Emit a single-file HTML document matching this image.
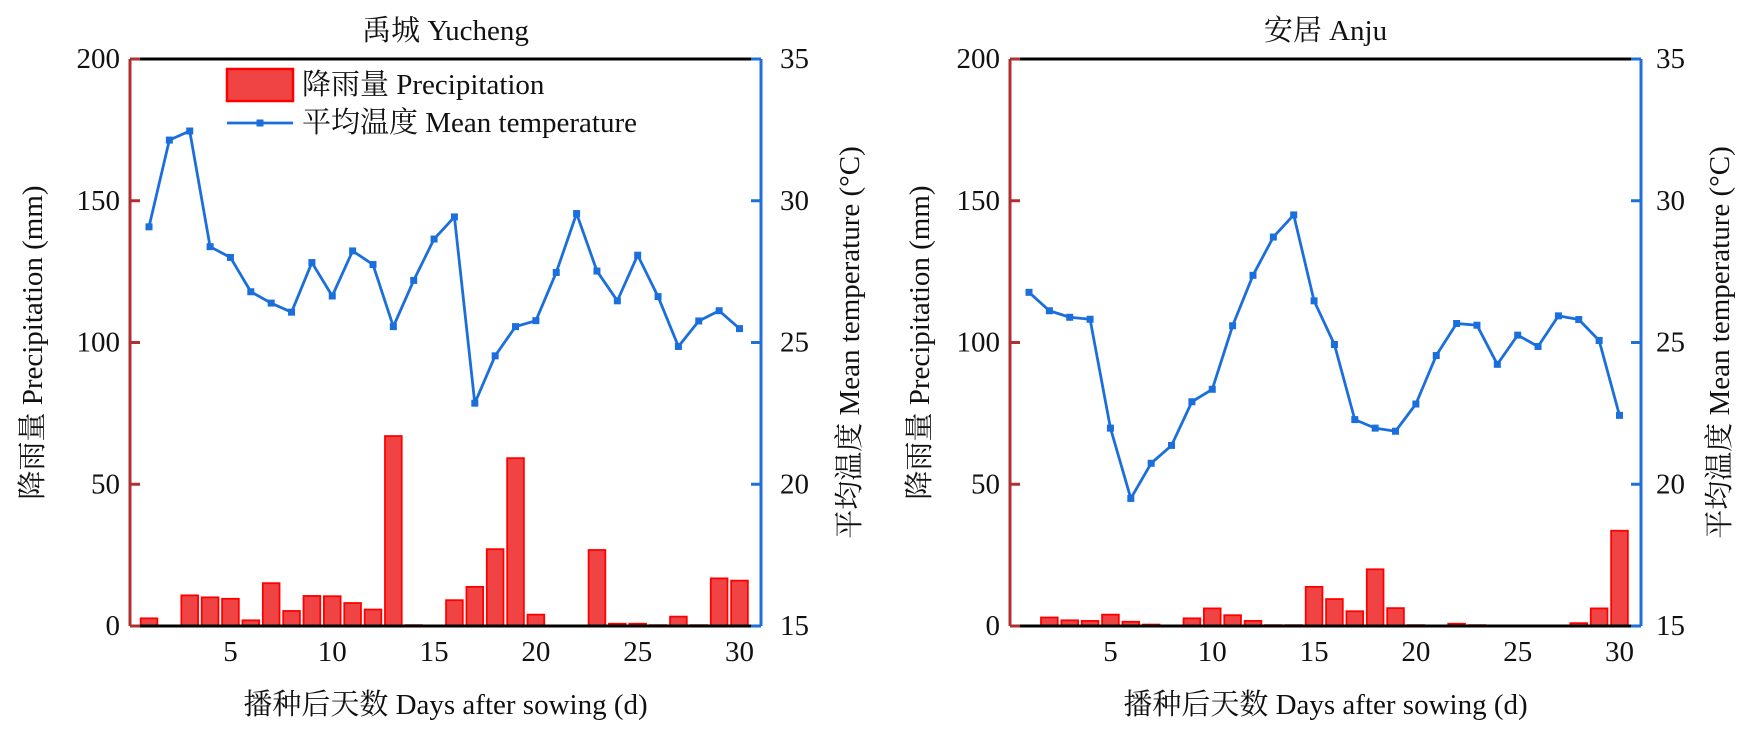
<!DOCTYPE html>
<html><head><meta charset="utf-8">
<style>
html,body{margin:0;padding:0;background:#fff;}
svg text{font-family:"Liberation Serif","Noto Serif CJK SC",serif;fill:#111;}
</style></head>
<body>
<svg id="chart" width="1745" height="736" viewBox="0 0 1745 736" xmlns="http://www.w3.org/2000/svg"></svg>
<script>
const days = [1,2,3,4,5,6,7,8,9,10,11,12,13,14,15,16,17,18,19,20,21,22,23,24,25,26,27,28,29,30];
const xTicks = [5,10,15,20,25,30];
const precipTicks = [0,50,100,150,200];
const tempTicks = [15,20,25,30,35];
const yuchengPrecip = [2.7,0,10.8,10.1,9.6,2.0,15.1,5.3,10.6,10.5,8.1,5.8,67,0.3,0,9.1,13.8,27.1,59.2,4.0,0,0.2,26.8,0.8,0.8,0.3,3.3,0.3,16.8,16.0];
const yuchengTemp = [29.08,32.14,32.46,28.38,28.0,26.79,26.39,26.07,27.82,26.64,28.23,27.75,25.56,27.19,28.65,29.43,22.86,24.53,25.56,25.77,27.47,29.55,27.52,26.47,28.08,26.62,24.86,25.76,26.12,25.49];
const anjuPrecip = [0,3.0,2.0,1.8,4.0,1.5,0.5,0,2.7,6.2,3.8,1.8,0.3,0.3,13.8,9.5,5.2,20,6.3,0.3,0,0.8,0.3,0,0,0.2,0,1.0,6.2,33.6];
const anjuTemp = [26.77,26.12,25.89,25.82,21.98,19.5,20.74,21.37,22.91,23.35,25.59,27.37,28.72,29.5,26.47,24.93,22.28,21.98,21.87,22.83,24.54,25.67,25.61,24.23,25.26,24.86,25.94,25.81,25.07,22.43];

const NS="http://www.w3.org/2000/svg";
const svg=document.getElementById('chart');
function mk(tag,attrs,parent,name,inter){
  const e=document.createElementNS(NS,tag);
  for(const k in attrs) e.setAttribute(k,attrs[k]);
  
  
  (parent||svg).appendChild(e); return e;
}
function txt(x,y,s,size,anchor,parent,name,rot){
  const t=mk('text',{x:x,y:y,'font-size':size,'text-anchor':anchor||'middle','dominant-baseline':'central'},parent,name,false);
  if(rot) t.setAttribute('transform','rotate(-90 '+x+' '+y+')');
  t.textContent=s; return t;
}
function panel(id,title,L,R,prec,temp,legend,ylx,yrx,tlx){
  const T=59,B=626;
  const g=mk('g',{},svg,id+'-panel',false);
  const d0=L+19, d1=R-21.5;
  const xs=d=>d0+(d-1)*(d1-d0)/29;
  const yp=v=>B-(v/200)*(B-T);
  const yt=v=>B-((v-15)/20)*(B-T);
  const bw=(d1-d0)/29*0.82;
  txt((L+R)/2,31,title,29,'middle',g,'chart-title');
  const bars=mk('g',{},g,'precipitation-bars',false);
  days.forEach((d,i)=>{
    const h=B-yp(prec[i]);
    mk('rect',{x:xs(d)-bw/2,y:yp(prec[i]),width:bw,height:Math.max(h,0),fill:'#f04444',stroke:'#ff0000','stroke-width':1.8},bars,'bar-day-'+d,false);
  });
  mk('line',{x1:L,y1:T,x2:R,y2:T,stroke:'#000','stroke-width':3},g,'top-spine',false);
  mk('line',{x1:L,y1:B,x2:R,y2:B,stroke:'#000','stroke-width':3},g,'x-axis',false);
  mk('line',{x1:L,y1:T,x2:L,y2:B,stroke:'#b03030','stroke-width':3},g,'left-y-axis',false);
  mk('line',{x1:R,y1:T,x2:R,y2:B,stroke:'#1f6fd8','stroke-width':3},g,'right-y-axis',false);
  precipTicks.forEach(v=>{
    mk('line',{x1:L,y1:yp(v),x2:L+10,y2:yp(v),stroke:'#b03030','stroke-width':3},g,'left-tick',false);
    txt(L-10,yp(v),String(v),29,'end',g,'left-tick-label');
  });
  tempTicks.forEach(v=>{
    mk('line',{x1:R-10,y1:yt(v),x2:R,y2:yt(v),stroke:'#1f6fd8','stroke-width':3},g,'right-tick',false);
    txt(tlx,yt(v),String(v),29,'start',g,'right-tick-label');
  });
  xTicks.forEach(v=>txt(xs(v),652,String(v),29,'middle',g,'x-tick-label'));
  txt((L+R)/2,705,'播种后天数 Days after sowing (d)',29,'middle',g,'x-axis-title');
  txt(ylx,(T+B)/2,'降雨量 Precipitation (mm)',29,'middle',g,'left-y-axis-title',true);
  txt(yrx,(T+B)/2,'平均温度 Mean temperature (°C)',29,'middle',g,'right-y-axis-title',true);
  const pts=days.map((d,i)=>xs(d)+','+yt(temp[i])).join(' ');
  mk('polyline',{points:pts,fill:'none',stroke:'#1a6fdc','stroke-width':2.8,'stroke-linejoin':'round'},g,'temperature-line',false);
  days.forEach((d,i)=>mk('rect',{x:xs(d)-3.5,y:yt(temp[i])-3.5,width:7,height:7,fill:'#1a6fdc'},g,'temp-point-day-'+d,false));
  if(legend){
    const lg=mk('g',{},g,'legend',false);
    mk('rect',{x:227,y:69,width:66,height:32,fill:'#f04444',stroke:'#ff0000','stroke-width':2.5},lg,'legend-precip-swatch',false);
    txt(302,85,'降雨量 Precipitation',29,'start',lg,'legend-precip-label');
    mk('line',{x1:227,y1:123,x2:293,y2:123,stroke:'#1a6fdc','stroke-width':2.8},lg,'legend-temp-swatch',false);
    mk('rect',{x:256.5,y:119.5,width:7,height:7,fill:'#1a6fdc'},lg,'legend-temp-marker',false);
    txt(302,123,'平均温度 Mean temperature',29,'start',lg,'legend-temp-label');
  }
}
panel('yucheng','禹城 Yucheng',130,761,yuchengPrecip,yuchengTemp,true,33,850,780);
panel('anju','安居 Anju',1010,1641,anjuPrecip,anjuTemp,false,920,1720,1656);
</script>
</body></html>
